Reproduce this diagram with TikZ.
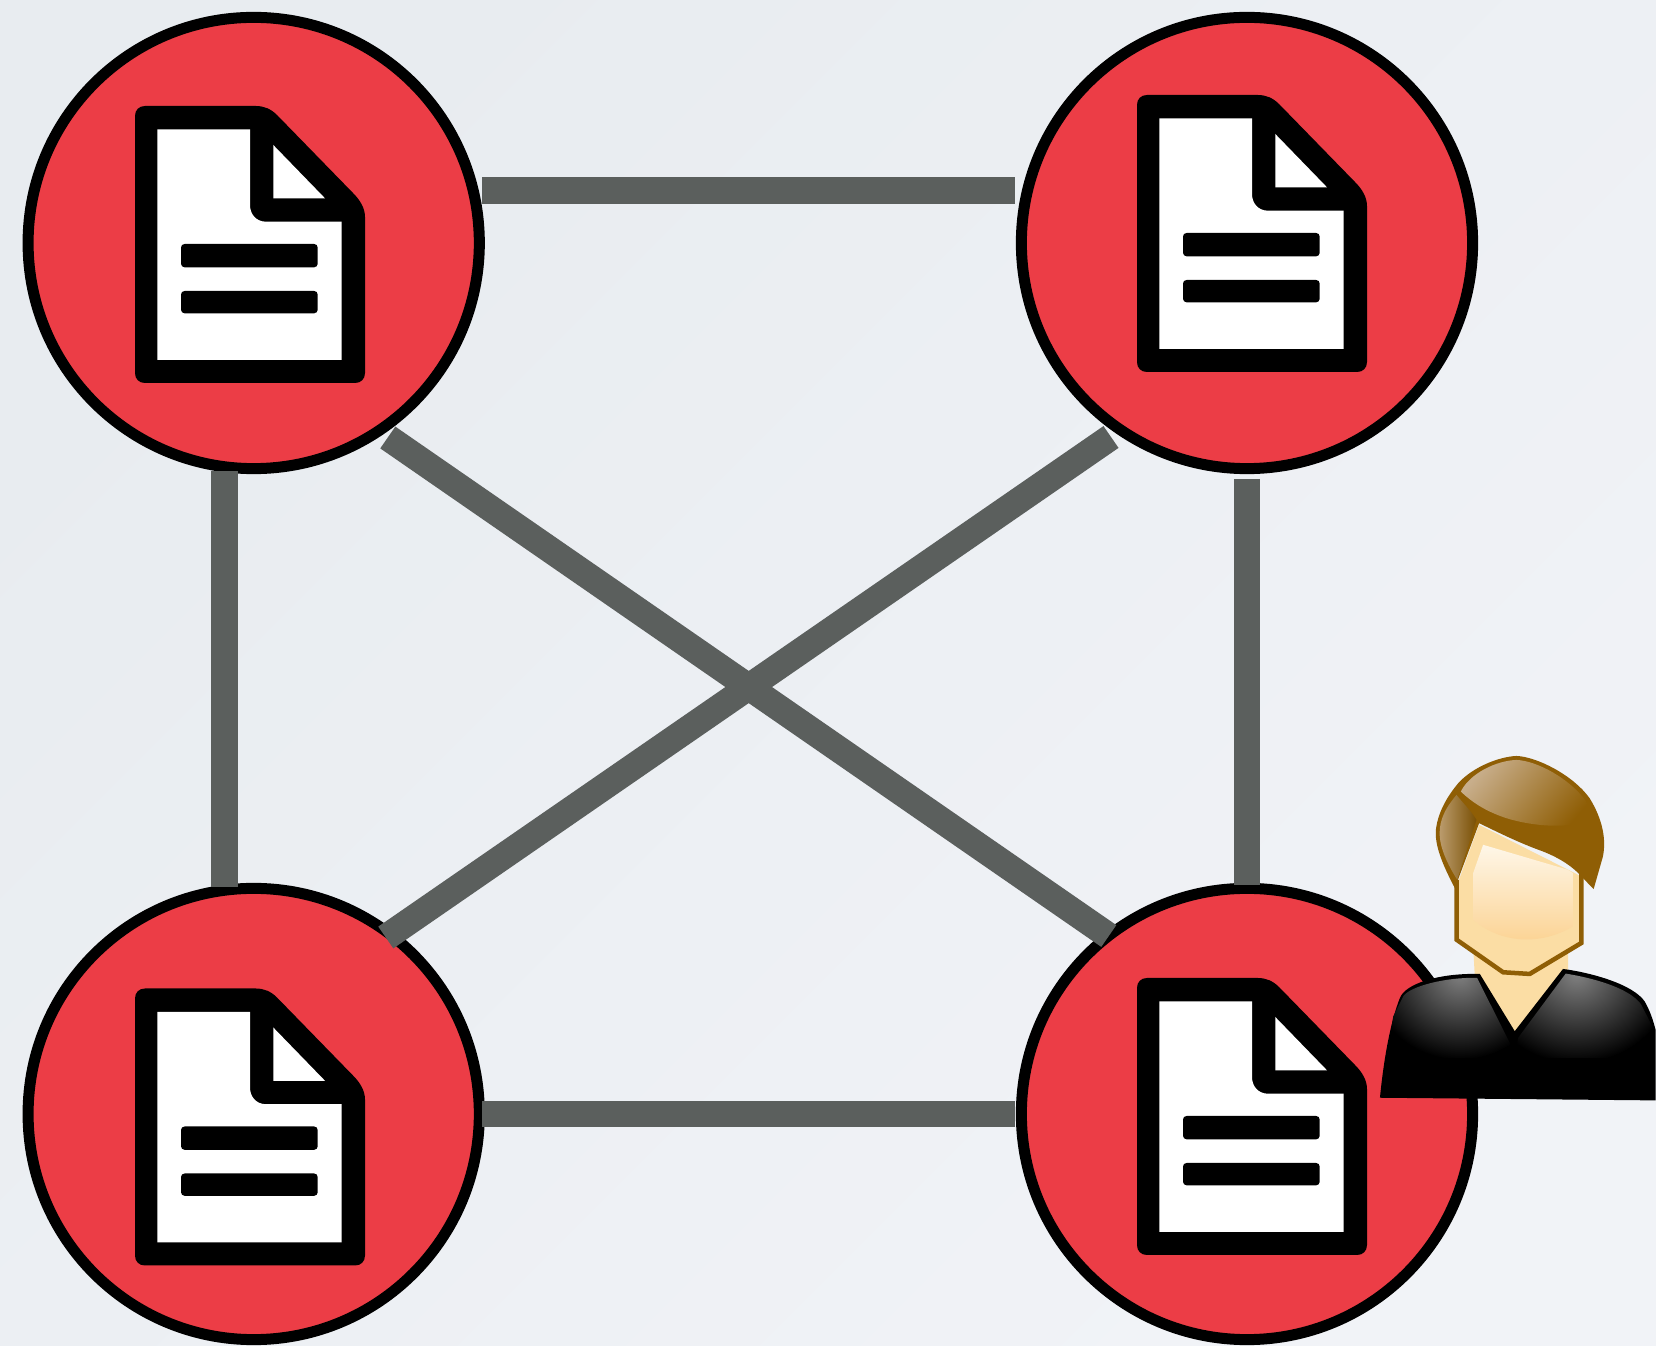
\documentclass[tikz,border=0pt]{standalone}
\usetikzlibrary{calc}
\definecolor{pagebgstart}{HTML}{E8ECF0}
\definecolor{pagebgend}{HTML}{F1F3F7}
\definecolor{nodered}{HTML}{EC3D46}
\definecolor{linkgrey}{HTML}{5B5F5D}
\definecolor{hairbrown}{HTML}{8F5E05}
\definecolor{hairtan}{HTML}{C8AE8B}
\definecolor{skin}{HTML}{FBDDA4}
\tikzset{
  nodecircle/.style={circle,draw=black,fill=nodered,line width=1.1mm,minimum size=4.51cm},
  link/.style={draw=linkgrey,line width=2.65mm},
}
\begin{document}
\begin{tikzpicture}[x=0.01cm,y=-0.01cm]
            \useasboundingbox (0,0) rectangle (1656,1346);
            % Background
            \shade[top color=pagebgstart,bottom color=pagebgend,shading angle=45] (0,0) rectangle (1656,1346);
            % Nodes
            \node[nodecircle] (topleft) at (253.7,243) {};
            \node[nodecircle] (topright) at (1247,243) {};
            \node[nodecircle] (botleft) at (253.7,1114) {};
            \node[nodecircle] (botright) at (1247,1114) {};
            % Links
            \draw[link] ($(topleft)+(228.3,-52.5)$) -- ($(topright)+(-232,-52.5)$);
            \draw[link] ($(botleft)+(228.3,0)$) -- ($(botright)+(-232,0)$);
            \draw[link] ($(topleft)+(-29.2,228)$) -- ($(botleft)+(-29.2,-227)$);
            \draw[link] ($(topright)+(0,236)$) -- ($(botright)+(0,-229)$);
            \draw[link] ($(topleft)+(134.1,194.5)$) -- ($(botright)+(-138.2,-178)$);
            \draw[link] ($(topright)+(-136,194)$) -- ($(botleft)+(132.1,-176.5)$);
            % Document icons
            \foreach \ox/\oy in {0/0,1002/-11,0/882.5,1002/872} {
              \begin{scope}[shift={(\ox,\oy)}]
                \fill[black] (135,116) .. controls (135,110) and (139,106) .. (145,106) -- (256,106)
                  .. controls (264,106) and (271,109) .. (277,115) -- (353,193)
                  .. controls (360,200) and (365,208) .. (365,217)
                  -- (365,373) .. controls (365,379) and (361,383) .. (355,383)
                  -- (145,383) .. controls (139,383) and (135,379) .. (135,373) -- cycle;
                \fill[white] (157.3,129.3) -- (250,129.3) -- (250,205)
                  .. controls (250,214) and (256,221.7) .. (266,221.7)
                  -- (341.7,221.7) -- (341.7,360) -- (157.3,360) -- cycle;
                \fill[white] (273.3,145) -- (325,198.3) -- (273.3,198.3) -- cycle;
                \fill[black,rounded corners=1pt] (181,244) rectangle (317.7,267.3);
                \fill[black,rounded corners=1pt] (181,291) rectangle (317.7,313.3);
              \end{scope}
            }
            % Person
            \begin{scope}[shift={(1360,730)},x=0.003333cm,y=-0.003333cm]
              \fill[skin] (340,650) -- (625,650) -- (625,760) -- (465,930) -- (345,740) -- cycle;
              \fill[black] (60,1105) .. controls (70,1000) and (90,880) .. (120,805)
                .. controls (135,765) and (230,730) .. (360,733)
                -- (465,905) -- (610,718)
                .. controls (700,730) and (820,765) .. (855,815)
                .. controls (872,845) and (880,870) .. (888,900) -- (888,1113) -- cycle;
              \begin{scope}
                \clip (100,860) -- (130,800) .. controls (150,770) and (260,742) .. (352,745)
                  -- (455,950) -- (460,985) -- (80,985) -- cycle;
                \shade[inner color=black!50,outer color=black] (300,735) ellipse (270 and 255);
              \end{scope}
              \begin{scope}
                \clip (618,732) .. controls (700,745) and (810,775) .. (845,825)
                  -- (888,910) -- (888,985) -- (465,985) -- (475,925) -- cycle;
                \shade[inner color=black!50,outer color=black] (650,735) ellipse (290 and 265);
              \end{scope}
              % face
              \fill[skin] (290,470) -- (290,630) -- (430,728) -- (510,733) -- (665,640)
                -- (665,440) -- (358,285) -- cycle;
              \shade[top color=white!75!skin,middle color=skin!55!white,bottom color=skin!88!orange]
                (370,345) -- (625,420) -- (640,430) -- (640,590) .. controls (540,650) and (420,640) .. (340,570)
                -- (340,430) -- cycle;
              \draw[hairbrown,line width=0.45mm] (290,450) -- (290,630) -- (430,728)
                -- (510,733) -- (665,640) -- (665,430);
              % hair
              \fill[hairbrown] (285,475) .. controls (240,390) and (225,340) .. (228,300)
                .. controls (235,240) and (270,190) .. (295,160)
                .. controls (340,110) and (420,80) .. (470,78)
                .. controls (530,80) and (640,135) .. (690,205)
                .. controls (730,270) and (740,330) .. (730,380)
                -- (702,478) -- (670,445) .. controls (640,410) and (600,385) .. (550,365)
                .. controls (480,340) and (420,310) .. (358,280) -- cycle;
              \shade[top color=hairtan,bottom color=hairbrown,shading angle=50]
                (303,185) .. controls (330,130) and (410,92) .. (470,90)
                .. controls (530,92) and (630,145) .. (680,215)
                -- (700,265) .. controls (640,300) and (520,290) .. (440,265)
                .. controls (380,245) and (340,220) .. (303,185) -- cycle;
              \shade[left color=hairtan!80!hairbrown,right color=hairbrown!85!black]
                (290,195) .. controls (310,220) and (335,245) .. (350,270)
                -- (292,450) .. controls (255,390) and (235,340) .. (240,295)
                .. controls (245,255) and (265,225) .. (290,195) -- cycle;
            \end{scope}
\end{tikzpicture}
\end{document}
